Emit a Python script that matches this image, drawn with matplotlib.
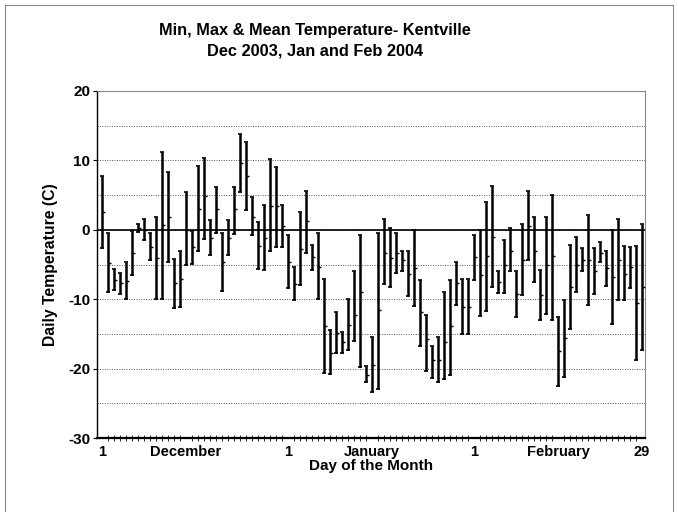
import matplotlib
matplotlib.use('Agg')
import matplotlib.pyplot as plt
from matplotlib.path import Path
from matplotlib.lines import Line2D
import numpy as np

# daily values, Dec 1 2003 .. Feb 29 2004 (91 days)
t_max = [7.7, -0.5, -5.7, -6.2, -4.7, -0.2, 0.8, 1.5, -0.5, 1.8,
         11.2, 8.3, -4.2, -3.1, 5.4, -0.2, 9.2, 10.4, 1.4, 6.2,
         -0.4, 1.4, 6.2, 13.8, 12.6, 4.7, 1.1, 3.6, 10.2, 9.1,
         3.6,
         -0.8, -5.4, 2.5, 5.6, -2.2, -0.5, -7.1, -14.5, -11.9, -14.7,
         -10.0, -5.9, -0.7, -19.6, -15.4, -0.4, 1.5, 0.2, -0.5, -3.0,
         -3.0, -0.1, -7.2, -12.3, -16.7, -15.5, -8.9, -7.3, -4.6, -7.1,
         -7.1,
         -0.8, -0.1, 4.0, 6.3, -5.9, -1.4, 0.3, -5.9, 0.8, 5.6,
         1.9, -5.8, 1.9, 5.0, -12.5, -10.1, -2.2, -1.0, -2.6, 2.1,
         -2.6, -1.7, -3.0, -0.1, 1.5, -2.4, -2.5, -2.3, 0.8]
t_min = [-2.6, -9.0, -8.7, -9.2, -10.0, -6.5, -0.3, -1.4, -4.3, -10.0,
         -9.9, -4.6, -11.2, -11.1, -5.0, -4.9, -3.1, -1.3, -3.6, -0.5,
         -8.8, -3.6, -0.6, 5.4, 2.9, -0.8, -5.7, -5.8, -3.1, -2.5,
         -2.5,
         -8.4, -10.1, -8.0, -3.4, -5.8, -9.9, -20.7, -20.8, -17.8, -17.7,
         -17.3, -16.0, -19.7, -22.0, -23.3, -23.0, -7.8, -8.2, -6.2, -5.9,
         -9.6, -11.0, -16.8, -20.3, -21.3, -21.9, -21.5, -20.9, -10.8, -15.0,
         -15.0,
         -7.2, -12.4, -11.7, -8.2, -9.1, -9.1, -6.0, -12.6, -9.4, -4.3,
         -7.5, -13.0, -12.2, -13.0, -22.5, -21.2, -14.3, -9.0, -6.0, -10.8,
         -9.3, -4.7, -8.1, -13.6, -10.1, -10.1, -8.4, -18.7, -17.3]
t_mean = [2.5, -4.8, -7.2, -7.7, -7.4, -3.4, 0.2, 0.0, -2.5, -4.1,
          0.7, 1.9, -7.7, -7.1, 0.0, -2.5, 3.0, 4.8, -1.2, 3.0,
          -4.6, -1.2, 3.0, 9.6, 7.8, 1.9, -2.3, -1.2, 3.5, 3.4,
          0.6,
          -4.7, -7.8, -2.8, 1.2, -3.9, -5.3, -13.9, -17.8, -14.9, -16.1,
          -13.7, -12.3, -9.0, -20.9, -19.5, -11.6, -3.3, -4.1, -3.4, -4.4,
          -6.3, -5.5, -11.9, -15.7, -18.8, -18.8, -16.1, -13.9, -7.7, -11.1,
          -11.1,
          -3.9, -6.5, -3.8, -1.0, -7.5, -5.1, -3.0, -9.2, -4.3, 0.6,
          -3.0, -9.4, -5.1, -3.8, -17.4, -15.6, -8.3, -5.1, -4.3, -4.3,
          -6.0, -3.3, -5.5, -6.8, -4.3, -6.3, -5.3, -10.5, -8.2]

x_tick_pos = [0, 14, 31, 45, 62, 76, 90]
x_tick_labels = ['1', 'December', '1', 'January', '1', 'February', '29']

plt.rcParams['font.family'] = ['Liberation Sans', 'DejaVu Sans']
plt.rcParams['font.weight'] = 'bold'
plt.rcParams['axes.unicode_minus'] = False

days = np.arange(len(t_max))
t_max = np.array(t_max)
t_min = np.array(t_min)
t_mean = np.array(t_mean)

fig = plt.figure(figsize=(6.78, 5.12), dpi=100)
ax = fig.add_axes([97/678, 1 - 438/512, 548/678, 347/512])

# outer chart border
for xs, ys in [([0.008, 0.008], [0, 0.99]), ([0.992, 0.992], [0, 0.99]),
               ([0.008, 0.992], [0.99, 0.99])]:
    fig.add_artist(Line2D(xs, ys, color='#888888', lw=0.8))

# min-max bars with caps
ax.vlines(days, t_min, t_max, color='black', lw=1.8, zorder=3)
ax.plot(days, t_max, ls='none', marker='_', ms=3.5, mew=1.2, color='black', zorder=3)
ax.plot(days, t_min, ls='none', marker='_', ms=3.5, mew=1.2, color='black', zorder=3)

# mean as a short tick to the right
right_tick = Path([(0, 0), (1, 0)], [Path.MOVETO, Path.LINETO])
ax.plot(days, t_mean, ls='none', marker=right_tick, ms=5, mew=1.0,
        color='black', mfc='none', zorder=3)

ax.axhline(0, color='black', lw=1.2, zorder=2)

ax.set_ylim(-30, 20)
ax.set_xlim(-0.8, 90.5)
ax.set_yticks(range(-30, 21, 10))
ax.set_yticks(range(-25, 20, 10), minor=True)
ax.yaxis.grid(True, which='both', ls=(0, (1, 1.5)), color='#555555', lw=0.7)
ax.set_axisbelow(True)

ax.set_xticks(x_tick_pos)
ax.set_xticklabels(x_tick_labels)
ax.set_xticks(days, minor=True)
ax.tick_params(axis='x', which='major', length=0, pad=5, labelsize=10.5)
ax.tick_params(axis='x', which='minor', direction='inout', length=4, width=0.6)
ax.tick_params(axis='y', which='major', length=3, width=0.8, pad=2, labelsize=11)
ax.tick_params(axis='y', which='minor', length=0)

for s in ['top', 'right']:
    ax.spines[s].set_color('#888888')
    ax.spines[s].set_linewidth(0.8)
ax.spines['left'].set_linewidth(1.0)
ax.spines['bottom'].set_linewidth(1.6)

ax.set_xlabel('Day of the Month', fontsize=11, fontweight='bold', labelpad=0)
ax.set_ylabel('Daily Temperature (C)', fontsize=11.3, fontweight='bold', labelpad=7)

fig.text(0.465, 0.92, 'Min, Max & Mean Temperature- Kentville\nDec 2003, Jan and Feb 2004',
         ha='center', va='center', fontsize=11.8, fontweight='bold', linespacing=1.5)

fig.savefig('out.png', dpi=100)
